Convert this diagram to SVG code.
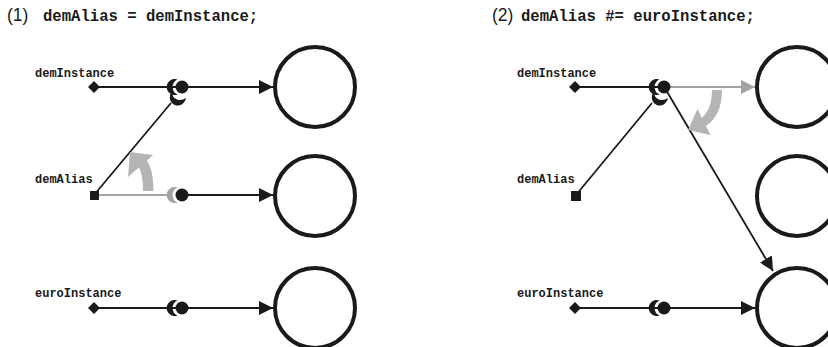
<svg xmlns="http://www.w3.org/2000/svg" width="828" height="347" viewBox="0 0 828 347">
<style>
.title{font-family:"Liberation Sans",Arial,sans-serif;font-size:17.5px;fill:#1a1a1a}
.code{font-family:"Liberation Mono","Courier New",monospace;font-weight:bold;font-size:15.6px;fill:#1a1a1a}
.lbl{font-family:"Liberation Mono","Courier New",monospace;font-weight:bold;font-size:12px;fill:#1a1a1a}
.obj{fill:#fff;stroke:#1a1a1a;stroke-width:4}
.ln{stroke:#1a1a1a;stroke-width:1.8;fill:none}
.lg{stroke:#a3a3a3;stroke-width:1.8;fill:none}
.blk{fill:#1a1a1a}
.gry{fill:#a3a3a3}
.garrow{fill:#b5b5b5}
</style>
<defs>
<marker id="ah" markerUnits="userSpaceOnUse" markerWidth="15" markerHeight="14" refX="14" refY="7" orient="auto"><path d="M0,0 L14,7 L0,14 Z" fill="#1a1a1a"/></marker>
<marker id="ahg" markerUnits="userSpaceOnUse" markerWidth="15" markerHeight="14" refX="14" refY="7" orient="auto"><path d="M0,0 L14,7 L0,14 Z" fill="#a3a3a3"/></marker>
<path id="cres" d="M-4.5,-7.5 A8,8 0 1 0 -4.5,7.5 A8.2,8.2 0 0 1 -4.5,-7.5 Z"/>
<polygon id="dia" points="0,-6 6,0 0,6 -6,0"/>
</defs>

<g id="titles">
<text class="title" x="7" y="21">(1)</text>
<text class="code" x="43" y="21">demAlias = demInstance;</text>
<text class="title" x="492" y="21">(2)</text>
<text class="code" x="521" y="21">demAlias #= euroInstance;</text>
</g>

<g id="connectors">
<!-- panel 1 -->
<line class="ln" x1="94" y1="87" x2="273" y2="87" marker-end="url(#ah)"/>
<line class="ln" x1="94" y1="195" x2="171" y2="103"/>
<line class="lg" x1="94" y1="195" x2="172" y2="195"/>
<line class="ln" x1="182" y1="195" x2="273" y2="195" marker-end="url(#ah)"/>
<line class="ln" x1="94" y1="308" x2="273" y2="308" marker-end="url(#ah)"/>
<path class="garrow" d="M130,152 L153,155 L147,160.5 C151,167 153.5,176 153.5,191 L143,191 C143,181 142,174 139,167.5 L128,177 Z"/>
<!-- panel 2 -->
<line class="ln" x1="575" y1="87" x2="660" y2="87"/>
<line class="lg" x1="664" y1="87" x2="755" y2="87" marker-end="url(#ahg)"/>
<line class="ln" x1="576" y1="195" x2="652" y2="103"/>
<line class="ln" x1="666" y1="90" x2="773" y2="271" marker-end="url(#ah)"/>
<line class="ln" x1="575" y1="308" x2="755" y2="308" marker-end="url(#ah)"/>
<path class="garrow" d="M712,90 L722,90 C722,108 716,119 706,126 L710.5,135 L688,130 L697.5,109 L702,118 C709,111 712,102 712,90 Z"/>
</g>

<g id="panel1-demInstance">
<text class="lbl" x="35" y="77">demInstance</text>
<use href="#dia" x="94" y="87" class="blk"/>
<use href="#cres" class="blk" transform="translate(182,87)"/>
<use href="#cres" class="blk" transform="translate(182,87) rotate(-68) translate(-4,0)"/>
<circle class="blk" cx="182" cy="87" r="6.5"/>
</g>
<g id="panel1-demAlias">
<text class="lbl" x="35" y="183">demAlias</text>
<rect class="blk" x="90" y="191" width="9" height="9"/>
<use href="#cres" class="gry" transform="translate(182,195)"/>
<circle class="blk" cx="182" cy="195" r="6.5"/>
</g>
<g id="panel1-euroInstance">
<text class="lbl" x="35" y="297">euroInstance</text>
<use href="#dia" x="94" y="308" class="blk"/>
<use href="#cres" class="blk" transform="translate(182,308)"/>
<circle class="blk" cx="182" cy="308" r="6.5"/>
</g>
<g id="panel1-objects">
<circle class="obj" cx="315" cy="87" r="40"/>
<circle class="obj" cx="315" cy="196" r="40"/>
<circle class="obj" cx="315" cy="308" r="40"/>
</g>

<g id="panel2-demInstance">
<text class="lbl" x="517" y="77">demInstance</text>
<use href="#dia" x="575" y="87" class="blk"/>
<use href="#cres" class="blk" transform="translate(664,87)"/>
<use href="#cres" class="blk" transform="translate(664,87) rotate(-68) translate(-4,0)"/>
<circle class="blk" cx="664" cy="87" r="6.5"/>
</g>
<g id="panel2-demAlias">
<text class="lbl" x="517" y="183">demAlias</text>
<rect class="blk" x="571" y="191" width="10" height="10"/>
</g>
<g id="panel2-euroInstance">
<text class="lbl" x="517" y="297">euroInstance</text>
<use href="#dia" x="575" y="308" class="blk"/>
<use href="#cres" class="blk" transform="translate(664,308)"/>
<circle class="blk" cx="664" cy="308" r="6.5"/>
</g>
<g id="panel2-objects">
<circle class="obj" cx="797" cy="87" r="40"/>
<circle class="obj" cx="797" cy="196" r="40"/>
<circle class="obj" cx="797" cy="308" r="40"/>
</g>
</svg>
